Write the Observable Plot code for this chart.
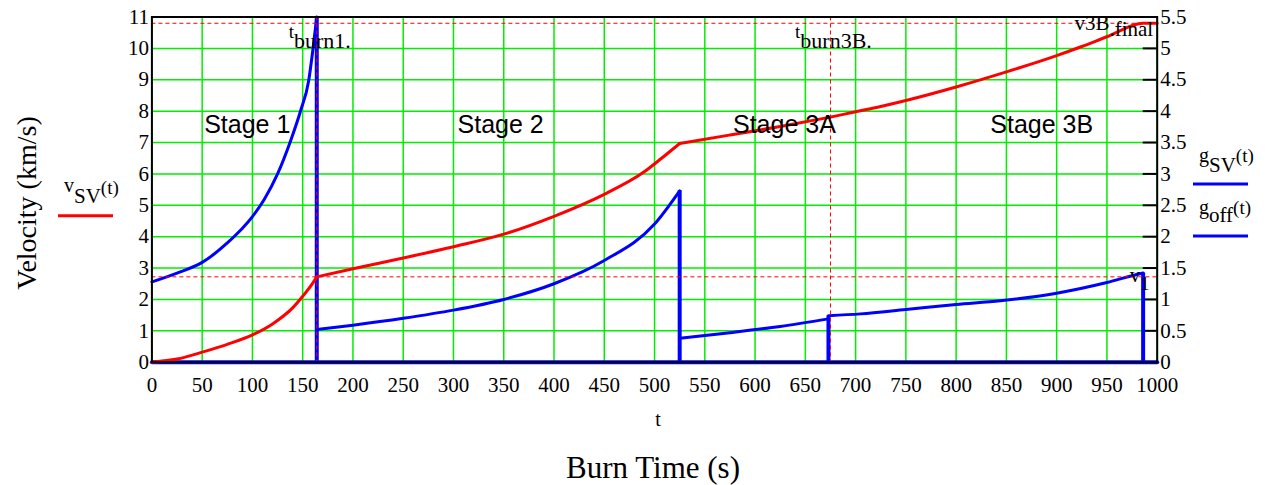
<!DOCTYPE html>
<html><head><meta charset="utf-8">
<script src="https://cdn.jsdelivr.net/npm/d3@7"></script>
<script src="https://cdn.jsdelivr.net/npm/@observablehq/plot@0.6"></script>
<style>
html,body{margin:0;padding:0;background:#fff;}
#wrap{position:relative;width:1266px;height:485px;overflow:hidden;}
#wrap svg{position:absolute;left:0;top:0;}
</style></head><body>
<div id="wrap"></div>
<script>
// ---- data ----
const xTicks = d3.range(0, 1001, 50);
const leftTicks = d3.range(0, 12, 1);
const rightTicks = [0,0.5,1,1.5,2,2.5,3,3.5,4,4.5,5,5.5];
const rightTickLabels = ["0","0.5","1","1.5","2","2.5","3","3.5","4","4.5","5","5.5"];

// v_SV(t) in km/s (left axis), per stage
const vel1T = [0,25,50,75,100,120,140,150,160,164];
const vel1V = [0,0.1,0.32,0.57,0.87,1.22,1.73,2.1,2.52,2.72];
const vel2T = [164,200,250,300,350,400,450,489,507,525];
const vel2V = [2.72,2.98,3.32,3.68,4.08,4.65,5.35,6.05,6.5,6.97];
const vel3aT = [525,575,625,675];
const vel3aV = [6.97,7.24,7.51,7.81];
const vel3bT = [675,700,725,750,800,850,900,925,950,986,1000];
const vel3bV = [7.81,7.98,8.15,8.34,8.77,9.25,9.77,10.06,10.37,10.8,10.8];

// g_SV(t) in g (right axis), per stage
const acc1T = [0,25,50,75,100,112,125,138,148,156,160,164];
const acc1G = [1.28,1.42,1.59,1.9,2.32,2.6,3.0,3.53,4.01,4.49,4.96,5.5];
const acc2T = [164,200,250,300,350,400,450,500,525];
const acc2G = [0.52,0.59,0.70,0.83,1.0,1.25,1.62,2.2,2.73];
const acc3aT = [525,575,625,673];
const acc3aG = [0.38,0.47,0.57,0.69];
const acc3bT = [673,705,750,800,844,900,950,983,986];
const acc3bG = [0.74,0.77,0.84,0.92,0.98,1.1,1.27,1.41,1.42];
// cut-off drops of g_SV to zero at each staging
const dropT = [164,525,673,986];
const dropG = [5.5,2.73,0.74,1.42];

// g_off(t)
const tOff = [0, 1000];
const gOff = [0, 0];

// markers
const tBurn1 = 164, tBurn3B = 675;
const v1 = 2.72, v3BFinal = 10.8;

const stageNames = ["Stage 1","Stage 2","Stage 3A","Stage 3B"];
const stageX = [52, 304, 578, 834];
const stageY = [7.55, 7.55, 7.55, 7.55];

// ---- tables ----
const pack = (T, V, s, k) => T.map((t,i)=>({t, v: V[i]*k, s}));
const velData = [...pack(vel1T,vel1V,"1",1), ...pack(vel2T,vel2V,"2",1), ...pack(vel3aT,vel3aV,"3a",1), ...pack(vel3bT,vel3bV,"3b",1)];
// g is mapped onto the left scale (right 5.5 == left 11)
const accData = [...pack(acc1T,acc1G,"1",2), ...pack(acc2T,acc2G,"2",2), ...pack(acc3aT,acc3aG,"3a",2), ...pack(acc3bT,acc3bG,"3b",2)];
const dropData = dropT.map((t,i)=>({t, g: dropG[i]*2}));
const offData = tOff.map((t,i)=>({t, g: gOff[i]*2}));
const stageData = stageNames.map((s,i)=>({s, x: stageX[i], y: stageY[i]}));

const serif = "'Liberation Serif','Times New Roman',serif";
const sans = "'Liberation Sans',Arial,sans-serif";

const W = 1266, H = 485;
const mL = 151.4, mR = 109.3;
const chart = Plot.plot({
  width: W, height: H,
  marginLeft: mL, marginRight: mR, marginTop: 16.5, marginBottom: 123.3,
  style: {fontFamily: serif, fontSize: "21px", background: "white", color: "black"},
  x: {domain: [0, 1000], label: null},
  y: {domain: [0, 11], label: null},
  marks: [
    Plot.gridX(xTicks, {stroke: "#00ee00", strokeOpacity: 1, strokeWidth: 1.5}),
    Plot.gridY(leftTicks, {stroke: "#00ee00", strokeOpacity: 1, strokeWidth: 1.5}),
    Plot.axisX({ticks: xTicks, tickFormat: d => String(d), tickSize: 0, tickPadding: 15, fontSize: 21, fontFamily: serif, label: null}),
    Plot.axisY({anchor: "left", ticks: leftTicks, tickFormat: d => String(d), tickSize: 0, tickPadding: 3, fontSize: 21, fontFamily: serif, label: null}),
    Plot.axisY({anchor: "right", ticks: rightTicks.map(d=>d*2), tickFormat: (d,i)=>rightTickLabels[i], tickSize: 0, tickPadding: 3, fontSize: 21, fontFamily: serif, label: null}),
    Plot.tickY(rightTicks.map(d=>d*2), {stroke: "black", strokeWidth: 2, insetLeft: (W - mL - mR) - 14}),
    Plot.line(offData, {x: "t", y: "g", stroke: "#0000ff", strokeWidth: 4}),
    Plot.ruleX(dropData, {x: "t", y1: 0, y2: "g", stroke: "#0000ff", strokeWidth: 4}),
    Plot.line(accData, {x: "t", y: "v", z: "s", stroke: "#0000ff", strokeWidth: 3, curve: "monotone-x"}),
    Plot.line(velData, {x: "t", y: "v", z: "s", stroke: "#ff0000", strokeWidth: 3, curve: "monotone-x"}),
    Plot.ruleX([tBurn1, tBurn3B], {stroke: "#ff0000", strokeWidth: 1, strokeDasharray: "4,3"}),
    Plot.ruleY([v1, v3BFinal], {stroke: "#ff0000", strokeWidth: 1, strokeDasharray: "4,3"}),
    Plot.text(stageData, {x: "x", y: "y", text: "s", textAnchor: "start", lineAnchor: "middle", fontSize: 25, fontFamily: sans, fill: "black"}),
    Plot.text([{x: tBurn1, y: 11, k: "t|burn1."}, {x: tBurn3B, y: 11, k: "t|burn3B."}], {x: "x", y: "y", text: "k", textAnchor: "middle", lineAnchor: "bottom", dx: 3, fontFamily: serif, fill: "black"}),
    Plot.text([{x: 1000, y: v3BFinal, k: "v3B|.final"}], {x: "x", y: "y", text: "k", textAnchor: "end", lineAnchor: "bottom", dx: -4, fontFamily: serif, fill: "black"}),
    Plot.text([{x: 1000, y: v1, k: "v|1"}], {x: "x", y: "y", text: "k", textAnchor: "end", lineAnchor: "bottom", dx: -8, fontFamily: serif, fill: "black"}),
    Plot.frame({stroke: "black", strokeWidth: 2})
  ]
});
document.getElementById("wrap").appendChild(chart);

// turn "a|b" labels into main + subscript tspans
const subStyle = {
  "t": {sizes: [19, 22], dys: [20.5, 10.5]},
  "v3B": {sizes: [21, 21], dys: [7, 6]},
  "v": {sizes: [21, 18], dys: [5.4, 8]}
};
chart.querySelectorAll("text").forEach(t => {
  const txt = t.textContent;
  if (!txt.includes("|")) return;
  const parts = txt.split("|");
  const st = subStyle[parts[0]];
  t.removeAttribute("y");
  t.removeAttribute("dy");
  while (t.firstChild) t.removeChild(t.firstChild);
  parts.forEach((p, i) => {
    const s = document.createElementNS("http://www.w3.org/2000/svg", "tspan");
    s.setAttribute("font-size", st.sizes[i]);
    s.setAttribute("dy", st.dys[i]);
    s.textContent = p;
    t.appendChild(s);
  });
});

// outside texts & legends
const ov = d3.select("#wrap").append("svg").attr("width", W).attr("height", H)
  .style("font-family", serif).style("pointer-events", "none");

function sub(x, y, parts) {
  const t = ov.append("text").attr("x", x).attr("y", y).attr("fill", "black");
  parts.forEach(([txt, size, dy]) => t.append("tspan").attr("font-size", size).attr("dy", dy).text(txt));
  return t;
}
// left legend v_SV(t)
sub(64, 192, [["v", 20, 0], ["SV", 21, 11], ["(t)", 19, -9]]);
ov.append("line").attr("x1", 58).attr("x2", 113).attr("y1", 215.7).attr("y2", 215.7).attr("stroke", "#ff0000").attr("stroke-width", 3);
// right legend g_SV(t), g_off(t)
sub(1199, 162, [["g", 20, 0], ["SV", 21, 10], ["(t)", 19, -10]]);
ov.append("line").attr("x1", 1193).attr("x2", 1248).attr("y1", 184).attr("y2", 184).attr("stroke", "#0000ff").attr("stroke-width", 3);
sub(1199, 214, [["g", 20, 0], ["off", 21, 8], ["(t)", 19, -8]]);
ov.append("line").attr("x1", 1193).attr("x2", 1248).attr("y1", 236).attr("y2", 236).attr("stroke", "#0000ff").attr("stroke-width", 3);

// axis titles
ov.append("text").attr("x", 658).attr("y", 426).attr("text-anchor", "middle").attr("font-size", 20).text("t");
ov.append("text").attr("x", 653).attr("y", 478).attr("text-anchor", "middle").attr("font-size", 31).text("Burn Time (s)");
ov.append("text").attr("transform", "translate(36,203) rotate(-90)").attr("text-anchor", "middle").attr("font-size", 28).text("Velocity (km/s)");
</script>
</body></html>
